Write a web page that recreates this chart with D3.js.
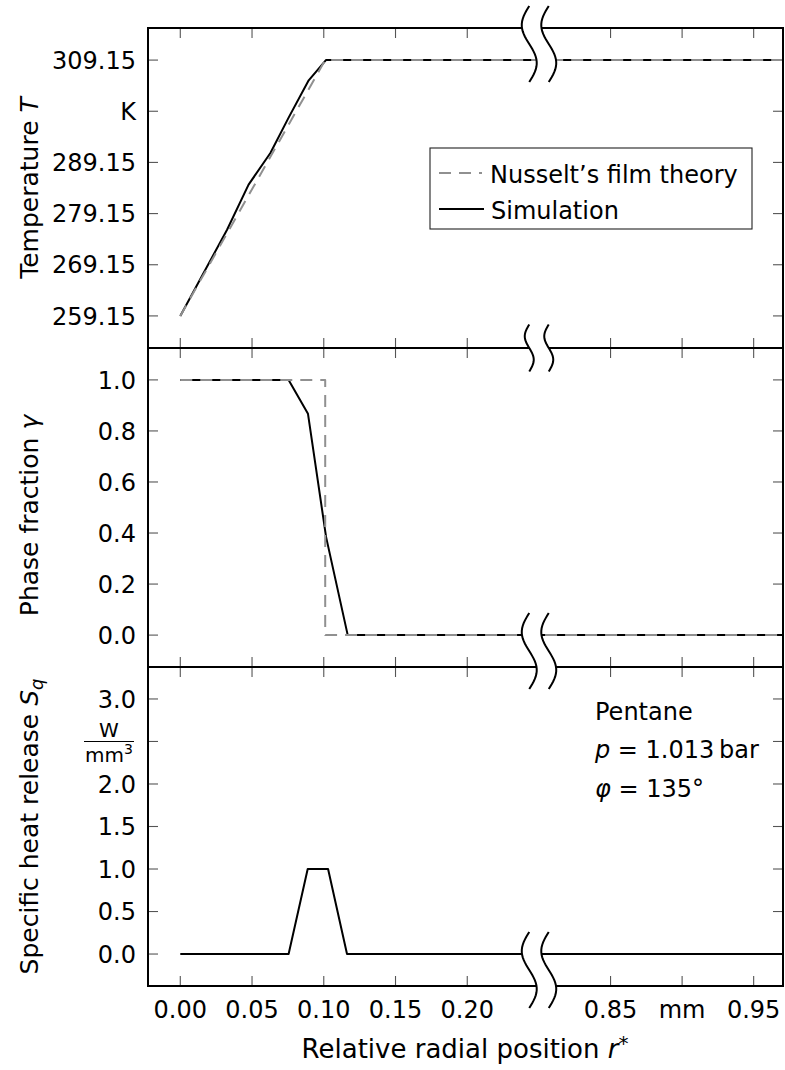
<!DOCTYPE html>
<html lang="en">

<head>
    <meta charset="UTF-8">
    <title>Condensation film profiles</title>
    <script src="https://d3js.org/d3.v7.min.js"></script>
    <style>
        body { margin: 0; background: #fff; }
        text { font-family: "DejaVu Sans", sans-serif; fill: #000; }
    </style>
</head>

<body>
    <svg width="785" height="1070"></svg>
    <script>
        // x axis (broken between 0.25 and 0.80)
        let xTicksLeft = [0, 0.05, 0.10, 0.15, 0.20]
        let xTicksRight = [0.85, 0.90, 0.95]
        let xTickLabels = { 0: "0.00", 0.05: "0.05", 0.1: "0.10", 0.15: "0.15", 0.2: "0.20", 0.85: "0.85", 0.9: "mm", 0.95: "0.95" }

        // temperature panel
        let tTicks = [259.15, 269.15, 279.15, 289.15, 299.15, 309.15]
        let tTickLabels = ["259.15", "269.15", "279.15", "289.15", "K", "309.15"]
        let tNusselt = [[0, 259.15], [0.101, 309.15], [0.97, 309.15]]
        let tSim = [[0, 259.15], [0.0326, 276.0], [0.0476, 284.8], [0.0628, 291.0], [0.0755, 297.9],
            [0.0895, 305.2], [0.1015, 309.15], [0.97, 309.15]]

        // phase fraction panel
        let gTicks = [0, 0.2, 0.4, 0.6, 0.8, 1.0]
        let gTickLabels = ["0.0", "0.2", "0.4", "0.6", "0.8", "1.0"]
        let gNusselt = [[0, 1], [0.101, 1], [0.101, 0], [0.97, 0]]
        let gSim = [[0, 1], [0.0755, 1], [0.089, 0.867], [0.1016, 0.385], [0.1167, 0], [0.97, 0]]

        // heat release panel
        let sTicks = [0, 0.5, 1.0, 1.5, 2.0, 2.5, 3.0]
        let sTickLabels = ["0.0", "0.5", "1.0", "1.5", "2.0", "", "3.0"]
        let sSim = [[0, 0], [0.0755, 0], [0.0888, 1.0], [0.103, 1.0], [0.1162, 0], [0.97, 0]]

        let svg = d3.select("svg")
        let left = 148, right = 783, breakPx = 539
        let tops = [28, 348, 667], bottoms = [348, 667, 986]

        let x = d3.scaleLinear()
            .domain([-0.0225, 0.25, 0.80, 0.9705])
            .range([left, breakPx, breakPx, right])

        let yT = d3.scaleLinear().domain([252.88, 315.42]).range([bottoms[0], tops[0]])
        let yG = d3.scaleLinear().domain([-0.125, 1.125]).range([bottoms[1], tops[1]])
        let yS = d3.scaleLinear().domain([-0.376, 3.376]).range([bottoms[2], tops[2]])

        let tickLen = 10
        let tickColor = "#555"
        let lw = 2

        function drawPanel(i, y, ticks, labels) {
            let g = svg.append("g")
            // y ticks both sides
            g.selectAll(".yl").data(ticks).enter().append("line")
                .attr("x1", left).attr("x2", left + tickLen)
                .attr("y1", function (d) { return y(d) }).attr("y2", function (d) { return y(d) })
                .attr("stroke", tickColor).attr("stroke-width", 1.1)
            g.selectAll(".yr").data(ticks).enter().append("line")
                .attr("x1", right).attr("x2", right - tickLen)
                .attr("y1", function (d) { return y(d) }).attr("y2", function (d) { return y(d) })
                .attr("stroke", tickColor).attr("stroke-width", 1.1)
            g.selectAll(".ylab").data(ticks).enter().append("text")
                .attr("x", 136)
                .attr("y", function (d) { return y(d) })
                .attr("dy", "0.36em")
                .attr("text-anchor", "end")
                .attr("font-size", 24)
                .text(function (d, j) { return labels[j] })
            // x ticks top and bottom
            let xt = xTicksLeft.concat(xTicksRight)
            g.selectAll(".xt").data(xt).enter().append("line")
                .attr("x1", function (d) { return x(d) }).attr("x2", function (d) { return x(d) })
                .attr("y1", tops[i]).attr("y2", tops[i] + tickLen)
                .attr("stroke", tickColor).attr("stroke-width", 1.1)
            g.selectAll(".xb").data(xt).enter().append("line")
                .attr("x1", function (d) { return x(d) }).attr("x2", function (d) { return x(d) })
                .attr("y1", bottoms[i]).attr("y2", bottoms[i] - tickLen)
                .attr("stroke", tickColor).attr("stroke-width", 1.1)
            return g
        }

        let p1 = drawPanel(0, yT, tTicks, tTickLabels)
        let p2 = drawPanel(1, yG, gTicks, gTickLabels)
        let p3 = drawPanel(2, yS, sTicks, sTickLabels)

        // data lines
        function addLine(g, y, data, dashed) {
            let line = d3.line()
                .x(function (d) { return x(d[0]) })
                .y(function (d) { return y(d[1]) })
            g.append("path")
                .datum(data)
                .attr("d", line)
                .attr("fill", "none")
                .attr("stroke", dashed ? "#909090" : "#000")
                .attr("stroke-width", lw)
                .attr("stroke-dasharray", dashed ? "12,8" : null)
                .attr("stroke-linejoin", "round")
        }
        addLine(p1, yT, tSim, false)
        addLine(p1, yT, tNusselt, true)
        addLine(p2, yG, gSim, false)
        addLine(p2, yG, gNusselt, true)
        addLine(p3, yS, sSim, false)

        // frame
        let frame = svg.append("g").attr("stroke", "#000").attr("stroke-width", lw)
        frame.append("line").attr("x1", left).attr("x2", left).attr("y1", tops[0] - 1).attr("y2", bottoms[2] + 1)
        frame.append("line").attr("x1", right).attr("x2", right).attr("y1", tops[0] - 1).attr("y2", bottoms[2] + 1)
        frame.selectAll(".h").data([tops[0], tops[1], tops[2], bottoms[2]]).enter().append("line")
            .attr("x1", left).attr("x2", right)
            .attr("y1", function (d) { return d }).attr("y2", function (d) { return d })

        // axis break marks
        function breakMark(cy, h, amp) {
            let n = 30
            let pts = d3.range(n + 1).map(function (k) {
                let yy = cy - h / 2 + h * k / n
                return [-amp * Math.sin(2 * Math.PI * k / n), yy]
            })
            let off = 9.75
            let c1 = pts.map(function (p) { return [breakPx - off + p[0], p[1]] })
            let c2 = pts.map(function (p) { return [breakPx + off + p[0], p[1]] })
            let line = d3.line()
            svg.append("path")
                .attr("d", line(c1.concat(c2.slice().reverse())) + "Z")
                .attr("fill", "#fff").attr("stroke", "none")
            svg.append("path").attr("d", line(c1))
                .attr("fill", "none").attr("stroke", "#000").attr("stroke-width", lw)
            svg.append("path").attr("d", line(c2))
                .attr("fill", "none").attr("stroke", "#000").attr("stroke-width", lw)
        }
        breakMark((tops[0] + yT(309.15)) / 2, 76, 7.5)
        breakMark(bottoms[0], 47, 4.5)
        breakMark((yG(0) + bottoms[1]) / 2, 76, 7.5)
        breakMark((yS(0) + bottoms[2]) / 2, 76, 7.5)

        // x tick labels
        svg.selectAll(".xlab").data(xTicksLeft.concat(xTicksRight)).enter().append("text")
            .attr("x", function (d) { return x(d) })
            .attr("y", 1018)
            .attr("text-anchor", "middle")
            .attr("font-size", 24)
            .text(function (d) { return xTickLabels[d] })

        // unit fraction W / mm^3 at 2.5
        let fy = yS(2.5)
        svg.append("text").attr("x", 109).attr("y", fy - 4).attr("text-anchor", "middle")
            .attr("font-size", 20).text("W")
        svg.append("line").attr("x1", 84).attr("x2", 134).attr("y1", fy).attr("y2", fy)
            .attr("stroke", "#000").attr("stroke-width", 1.2)
        let mm = svg.append("text").attr("x", 109).attr("y", fy + 21).attr("text-anchor", "middle")
            .attr("font-size", 20)
        mm.append("tspan").text("mm")
        mm.append("tspan").attr("dy", -8).attr("font-size", 14).text("3")

        // axis titles
        function yTitle(cy, parts) {
            let t = svg.append("text")
                .attr("transform", "translate(38," + cy + ") rotate(-90)")
                .attr("text-anchor", "middle")
                .attr("font-size", 25)
            parts.forEach(function (p) {
                let s = t.append("tspan").text(p.t)
                if (p.i) s.attr("font-style", "italic")
                if (p.dy) s.attr("dy", p.dy)
                if (p.fs) s.attr("font-size", p.fs)
            })
        }
        yTitle((tops[0] + bottoms[0]) / 2, [{ t: "Temperature " }, { t: "T", i: true }])
        yTitle((tops[1] + bottoms[1]) / 2 + 8, [{ t: "Phase fraction " }, { t: "γ", i: true }])
        yTitle((tops[2] + bottoms[2]) / 2, [{ t: "Specific heat release " }, { t: "S", i: true }, { t: "q", i: true, dy: 5, fs: 18 }])

        let xt = svg.append("text").attr("x", 465).attr("y", 1058)
            .attr("text-anchor", "middle").attr("font-size", 26)
        xt.append("tspan").text("Relative radial position ")
        xt.append("tspan").attr("font-style", "italic").text("r")
        xt.append("tspan").attr("dy", -8).attr("font-size", 20).text("*")

        // legend
        let lg = svg.append("g")
        lg.append("rect").attr("x", 430).attr("y", 148).attr("width", 322).attr("height", 81)
            .attr("fill", "#fff").attr("stroke", "#222").attr("stroke-width", 1.1)
        lg.append("line").attr("x1", 439).attr("x2", 482).attr("y1", 173).attr("y2", 173)
            .attr("stroke", "#909090").attr("stroke-width", lw).attr("stroke-dasharray", "12,8")
        lg.append("line").attr("x1", 439).attr("x2", 484).attr("y1", 209).attr("y2", 209)
            .attr("stroke", "#000").attr("stroke-width", lw)
        lg.append("text").attr("x", 490).attr("y", 183).attr("font-size", 24).text("Nusselt\u2019s film theory")
        lg.append("text").attr("x", 491).attr("y", 219).attr("font-size", 24).text("Simulation")

        // annotation
        let ann = svg.append("g").attr("font-size", 24)
        ann.append("text").attr("x", 595).attr("y", 720).text("Pentane")
        let a2 = ann.append("text").attr("x", 595).attr("y", 758)
        a2.append("tspan").attr("font-style", "italic").text("p")
        a2.append("tspan").text(" = 1.013\u2009bar")
        let a3 = ann.append("text").attr("x", 595).attr("y", 797)
        a3.append("tspan").attr("font-style", "italic").text("φ")
        a3.append("tspan").text(" = 135°")
    </script>
</body>

</html>
